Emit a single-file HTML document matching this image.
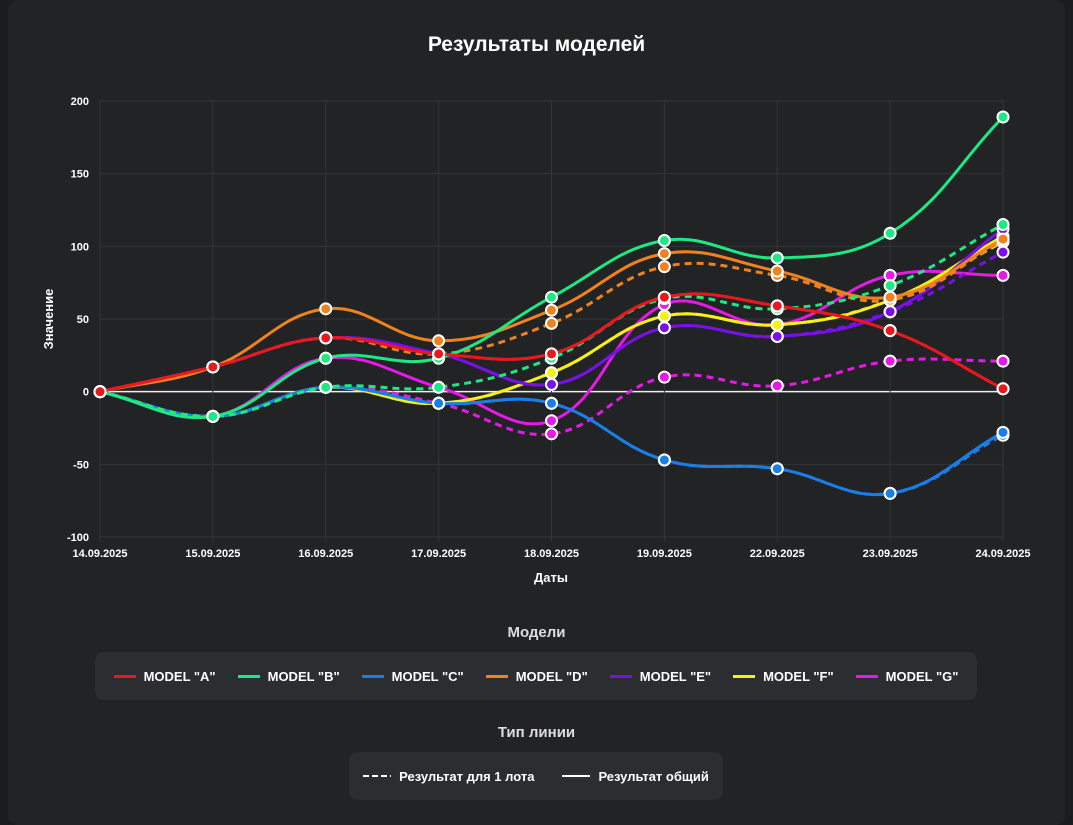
<!DOCTYPE html>
<html><head><meta charset="utf-8"><style>
html,body{margin:0;padding:0;background:#1b1c1e;width:1073px;height:825px;overflow:hidden;font-family:"Liberation Sans","DejaVu Sans",sans-serif;}
#card{position:absolute;left:8px;top:0;width:1057px;height:825px;background:#222325;border-radius:10px;}
.t{position:absolute;color:#fff;font-weight:bold;text-align:center}
.legbox{position:absolute;background:#2c2d30;border-radius:8px;display:flex;align-items:center;justify-content:center;gap:22px;color:#fff;font-weight:bold;font-size:13px}
.li{display:flex;align-items:center;gap:8px}
</style></head><body>
<div id="card"></div>
<div class="t" style="left:0;width:1073px;top:33px;font-size:21px">Результаты моделей</div>
<svg id="chart" width="1073" height="825" style="position:absolute;left:0;top:0"></svg>
<div class="t" style="left:0;width:1073px;top:624px;font-size:15px;color:#ddd">Модели</div>
<div class="legbox" style="left:95px;top:652px;width:882px;height:48px" id="leg1"></div>
<div class="t" style="left:0;width:1073px;top:724px;font-size:15px;color:#ddd">Тип линии</div>
<div class="legbox" style="left:349px;top:752px;width:374px;height:48px;gap:28px">
<div class="li"><svg width="28" height="4"><line x1="0" y1="2" x2="28" y2="2" stroke="#fff" stroke-width="2" stroke-dasharray="6,3"/></svg>Результат для 1 лота</div>
<div class="li"><svg width="28" height="4"><line x1="0" y1="2" x2="28" y2="2" stroke="#fff" stroke-width="2"/></svg>Результат общий</div>
</div>
<script>
const categories=["14.09.2025","15.09.2025","16.09.2025","17.09.2025","18.09.2025","19.09.2025","22.09.2025","23.09.2025","24.09.2025"];
const yTicks=[200,150,100,50,0,-50,-100];
const modelNames=['MODEL "A"','MODEL "B"','MODEL "C"','MODEL "D"','MODEL "E"','MODEL "F"','MODEL "G"'];
const colors=["#e8191e","#1de982","#1a7ee8","#f0821e","#7a10e8","#f6f019","#e619e6"];
const solidA=[0,17,37,26,26,65,59,42,2];
const solidB=[0,-17,23,23,65,104,92,109,189];
const solidC=[0,-17,3,-8,-8,-47,-53,-70,-28];
const solidD=[0,17,57,35,56,95,83,65,105];
const solidE=[0,17,37,26,5,44,38,55,112];
const solidF=[0,-17,3,-8,13,52,46,63,107];
const solidG=[0,-17,23,3,-20,60,46,80,80];
const dashA=[0,17,37,26,26,65,59,42,2];
const dashB=[0,-17,3,3,23,64,57,73,115];
const dashC=[0,-17,3,-8,-8,-47,-53,-70,-30];
const dashD=[0,17,37,26,47,86,80,63,104];
const dashE=[0,17,37,26,5,44,38,55,96];
const dashF=[0,-17,3,-8,13,52,46,63,103];
const dashG=[0,-17,3,-8,-29,10,4,21,21];
const solids=[solidA,solidB,solidC,solidD,solidE,solidF,solidG];
const dashes=[dashA,dashB,dashC,dashD,dashE,dashF,dashG];
const X0=100,X1=1003,Y0=101,Y1=537,VMAX=200,VMIN=-100;
const xs=i=>X0+(X1-X0)*i/(categories.length-1);
const ys=v=>Y0+(VMAX-v)*(Y1-Y0)/(VMAX-VMIN);
const svg=document.getElementById('chart');const NS="http://www.w3.org/2000/svg";
function mk(t,a,p){const e=document.createElementNS(NS,t);for(const k in a)e.setAttribute(k,a[k]);(p||svg).appendChild(e);return e;}
yTicks.forEach(v=>{const l=mk('line',{x1:X0,x2:X1,y1:ys(v),y2:ys(v),stroke:v===0?'#eee':'#343538','stroke-width':v===0?1.5:1});

const t=mk('text',{x:X0-11,y:ys(v)+4,'text-anchor':'end',fill:'#fff','font-size':11,'font-weight':'bold'});t.textContent=v;
});
categories.forEach((c,i)=>{const l=mk('line',{x1:xs(i),x2:xs(i),y1:Y0,y2:Y1+5,stroke:'#343538'});

const t=mk('text',{x:xs(i),y:557,'text-anchor':'middle',fill:'#fff','font-size':11,'font-weight':'bold'});t.textContent=c;
});
let t=mk('text',{x:551,y:582,'text-anchor':'middle',fill:'#fff','font-size':13,'font-weight':'bold'});t.textContent='Даты';

t=mk('text',{x:0,y:0,'text-anchor':'middle',fill:'#fff','font-size':13,'font-weight':'bold',transform:'translate(53,319) rotate(-90)'});t.textContent='Значение';

function path(d){const p=d.map((v,i)=>[xs(i),ys(v)]);const T=0.4;let s=`M${p[0][0]},${p[0][1]}`;
const cp=p.map((pt,i)=>{const pr=p[Math.max(0,i-1)],nx=p[Math.min(p.length-1,i+1)];
const d01=Math.hypot(pt[0]-pr[0],pt[1]-pr[1]),d12=Math.hypot(nx[0]-pt[0],nx[1]-pt[1]);
let fa=d01/(d01+d12)||0,fb=d12/(d01+d12)||0;fa*=T;fb*=T;
return [[pt[0]-fa*(nx[0]-pr[0]),pt[1]-fa*(nx[1]-pr[1])],[pt[0]+fb*(nx[0]-pr[0]),pt[1]+fb*(nx[1]-pr[1])]];});
for(let i=1;i<p.length;i++){const a=cp[i-1][1],b=cp[i][0];s+=` C${a[0]},${a[1]} ${b[0]},${b[1]} ${p[i][0]},${p[i][1]}`;}return s;}
function series(d,c,dash,name){const e=mk('path',{d:path(d),fill:'none',stroke:c,'stroke-width':3,'stroke-dasharray':dash?'7,5':'none'});
}
function pts(d,c,name){d.forEach((v,i)=>{const e=mk('circle',{cx:xs(i),cy:ys(v),r:5.5,fill:c,stroke:'#fff','stroke-width':2});
});}
for(let k=6;k>=0;k--){series(dashes[k],colors[k],true,'dashed-line-'+k);series(solids[k],colors[k],false,'solid-line-'+k);}
for(let k=6;k>=0;k--){pts(dashes[k],colors[k],'dashed-point');pts(solids[k],colors[k],'solid-point');}
const leg=document.getElementById('leg1');
modelNames.forEach((n,k)=>{const d=document.createElement('div');d.className='li';


d.innerHTML=`<span style="display:inline-block;width:22px;height:3px;background:${colors[k]}"></span>${n}`;leg.appendChild(d);});
</script>
</body></html>
